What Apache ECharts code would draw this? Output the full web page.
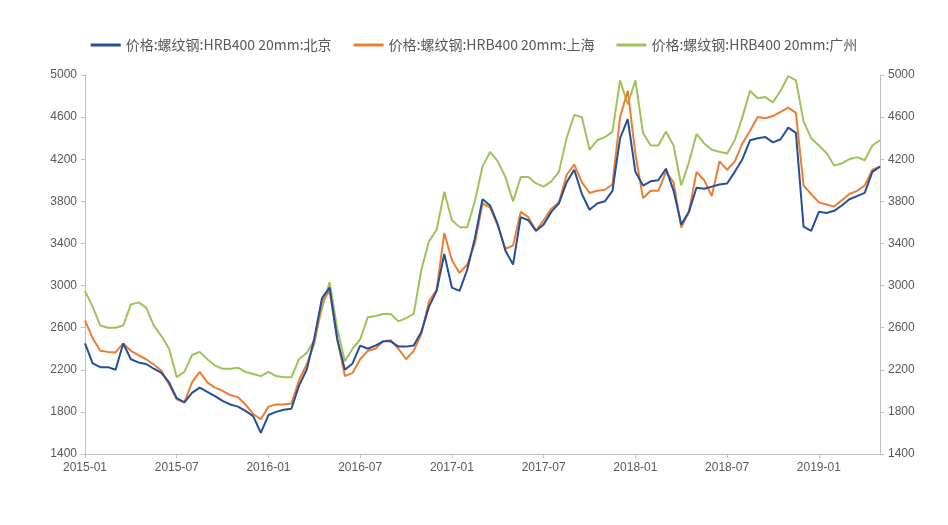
<!DOCTYPE html>
<html>
<head>
<meta charset="utf-8">
<script src="https://cdn.jsdelivr.net/npm/echarts@6/dist/echarts.min.js"></script>
<style>
  html, body { margin: 0; padding: 0; background: #fff; }
  #chart { width: 948px; height: 525px; }
</style>
</head>
<body>
<div id="chart"></div>
<script>
// half-month dates, 2015-01-01 .. 2019-05-01
const dates = []
for (let y = 2015; y <= 2019; y++) {
  for (let m = 1; m <= 12; m++) {
    if (y === 2019 && m > 5) break
    const mm = String(m).padStart(2, '0')
    dates.push(`${y}-${mm}-01`)
    if (!(y === 2019 && m === 5)) dates.push(`${y}-${mm}-16`)
  }
}

const seriesNames = ['价格:螺纹钢:HRB400 20mm:北京', '价格:螺纹钢:HRB400 20mm:上海', '价格:螺纹钢:HRB400 20mm:广州']

const beijing = [
  2450, 2260, 2225, 2225, 2200, 2450, 2300, 2270, 2255, 2210, 2170, 2080,
  1930, 1890, 1980, 2030, 1990, 1950, 1905, 1870, 1850, 1810, 1760, 1600,
  1770, 1800, 1820, 1830, 2050, 2200, 2500, 2880, 2980, 2490, 2200, 2260,
  2430, 2400, 2430, 2470, 2470, 2420, 2420, 2430, 2560, 2800, 2950, 3300,
  2980, 2950, 3150, 3450, 3820, 3760, 3580, 3330, 3200, 3650, 3620, 3520,
  3580, 3700, 3780, 3980, 4100, 3870, 3720, 3780, 3800, 3900, 4400, 4580,
  4080, 3950, 3990, 4000, 4110, 3900, 3580, 3700, 3930, 3920, 3940, 3960,
  3970, 4080, 4200, 4380, 4400, 4410, 4360, 4390, 4500, 4450, 3560, 3520,
  3700, 3690, 3710, 3760, 3820, 3850, 3880, 4080, 4130
]

const shanghai = [
  2670, 2500, 2380, 2370, 2365, 2450, 2380, 2340, 2300, 2250, 2190, 2060,
  1920, 1890, 2080, 2180, 2080, 2030, 2000, 1960, 1940, 1870, 1780, 1730,
  1850, 1870, 1870, 1880, 2100, 2250, 2450, 2850, 2950, 2490, 2140, 2170,
  2300, 2380, 2400, 2470, 2480, 2400, 2300, 2380, 2540, 2850, 2960, 3500,
  3240, 3120, 3200, 3400, 3780, 3740, 3570, 3350, 3380, 3700, 3650, 3520,
  3620, 3730, 3790, 4050, 4150, 3980, 3880, 3900, 3910, 3960, 4600, 4850,
  4250, 3830, 3900, 3900, 4080, 3980, 3550, 3700, 4080, 4000, 3850, 4180,
  4100, 4180, 4350, 4470, 4600, 4590, 4610, 4650, 4690, 4640, 3950, 3870,
  3790, 3770, 3750, 3810, 3870, 3900, 3950, 4100, 4130
]

const guangzhou = [
  2950, 2800, 2620, 2600, 2600, 2620, 2820, 2840, 2790, 2620, 2520, 2400,
  2130, 2180, 2340, 2370, 2300, 2240, 2210, 2210, 2220, 2180, 2160, 2140,
  2180, 2140, 2130, 2130, 2300, 2360, 2480, 2780, 3030, 2590, 2280, 2400,
  2490, 2700, 2710, 2730, 2730, 2660, 2690, 2730, 3150, 3420, 3530, 3890,
  3620, 3555, 3555, 3800, 4130, 4270, 4180, 4030, 3800, 4030, 4030, 3970,
  3940, 3990, 4080, 4400, 4620, 4600, 4290, 4380, 4410, 4460, 4950, 4720,
  4950, 4450, 4330, 4330, 4460, 4330, 3950, 4170, 4440, 4350, 4290, 4270,
  4255, 4380, 4600, 4850, 4780, 4790, 4740, 4850, 4990, 4950, 4560, 4400,
  4330, 4260, 4140, 4160, 4200, 4220, 4190, 4330, 4380
]

const colors = ['#264f9a', '#ed7d31', '#9dc35a']
const yMin = 1400
const yMax = 5000
const yStep = 400

const isHalfYear = (i, v) => v.endsWith('-01-01') || v.endsWith('-07-01')

const yAxisBase = {
  type: 'value',
  min: yMin,
  max: yMax,
  interval: yStep,
  splitLine: { show: false },
  axisLine: { show: true, lineStyle: { color: '#bfbfbf' } },
  axisTick: { show: true, length: 4, lineStyle: { color: '#bfbfbf' } },
  axisLabel: {
    formatter: v => String(v),
    color: '#595959',
    fontSize: 12,
    fontFamily: 'Liberation Sans, Arial, sans-serif'
  }
}

const chart = echarts.init(document.getElementById('chart'))
chart.setOption({
  animation: false,
  color: colors,
  grid: { left: 85, right: 68, top: 75, bottom: 71 },
  legend: {
    top: 33,
    left: 'center',
    itemGap: 22,
    itemWidth: 30,
    itemHeight: 3,
    icon: 'rect',
    textStyle: { color: '#595959', fontSize: 14, fontFamily: '"Noto Sans CJK SC", sans-serif' },
    data: seriesNames
  },
  xAxis: {
    type: 'category',
    data: dates,
    boundaryGap: false,
    axisLine: { lineStyle: { color: '#bfbfbf' } },
    axisTick: { interval: isHalfYear, length: 4, lineStyle: { color: '#bfbfbf' } },
    axisLabel: {
      interval: isHalfYear,
      formatter: v => v.slice(0, 7),
      color: '#595959',
      fontSize: 12,
      margin: 8,
      fontFamily: 'Liberation Sans, Arial, sans-serif'
    }
  },
  yAxis: [
    Object.assign({ position: 'left' }, yAxisBase),
    Object.assign({ position: 'right' }, yAxisBase)
  ],
  series: [beijing, shanghai, guangzhou].map((d, i) => ({
    name: seriesNames[i],
    type: 'line',
    data: d,
    showSymbol: false,
    lineStyle: { width: 2, color: colors[i] },
    z: 3 - i
  }))
})
</script>
</body>
</html>
